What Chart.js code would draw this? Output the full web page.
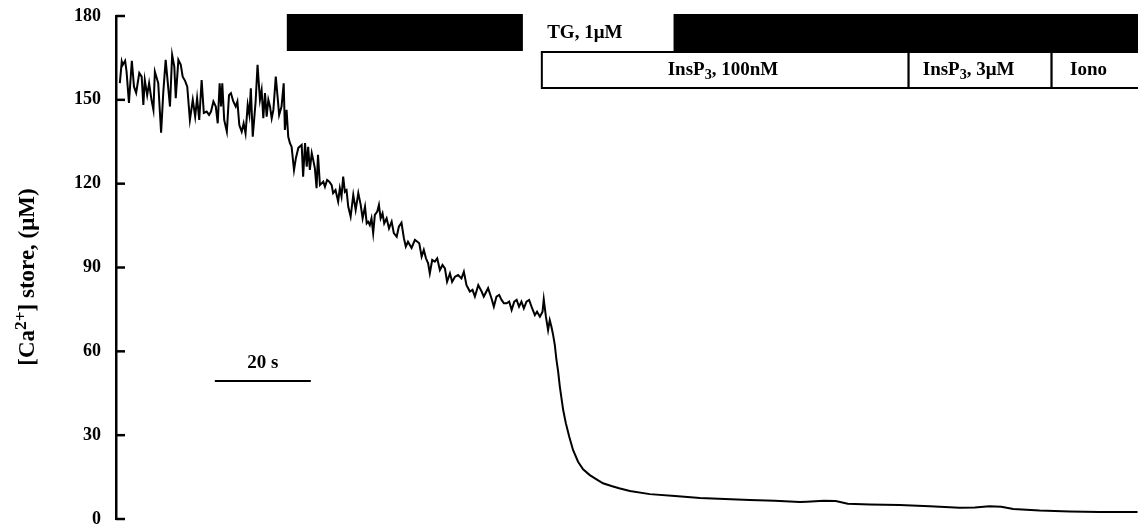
<!DOCTYPE html>
<html>
<head>
<meta charset="utf-8">
<script src="https://cdn.jsdelivr.net/npm/chart.js@4/dist/chart.umd.min.js"></script>
<style>
  html, body { margin: 0; padding: 0; background: #fff; }
  #wrap { width: 1138px; height: 525px; position: relative; }
</style>
</head>
<body>
<div id="wrap"><canvas id="store-chart"></canvas></div>
<script>
// time (s) and [Ca2+] in the store (uM)
const timeS = [
  0.8, 1.2, 1.4, 1.9, 2.2, 2.7, 3.3, 3.75, 4.2, 4.85, 5.35, 5.7, 6.0, 6.5, 6.9, 7.4, 7.8, 8.1, 8.8, 9.4,
  9.85, 10.35, 10.8, 11.25, 11.7, 12.15, 12.45, 13.0, 13.5, 13.9, 14.4, 14.85, 15.4, 16.0, 16.5, 16.9, 17.35, 17.85, 18.3, 18.9,
  19.4, 19.8, 20.3, 20.8, 21.2, 21.6, 21.9, 22.15, 22.55, 23.1, 23.55, 23.95, 24.45, 24.95, 25.3, 25.7, 26.2, 26.6, 27.0, 27.45,
  27.8, 28.1, 28.5, 29.1, 29.5, 30.0, 30.35, 30.7, 31.05, 31.4, 31.75, 32.1, 32.45, 32.8, 33.3, 33.7, 34.0, 34.5, 34.95, 35.2,
  35.55, 35.9, 36.25, 36.6, 37.1, 37.5, 38.0, 38.7, 39.0, 39.4, 39.75, 40.05, 40.4, 40.8, 41.1, 41.45, 41.8, 42.1, 42.5, 42.85,
  43.2, 43.55, 44.0, 44.45, 44.95, 45.25, 45.75, 46.3, 46.65, 47.0, 47.35, 47.7, 48.05, 48.4, 48.9, 49.45, 49.95, 50.5, 51.0, 51.4,
  51.9, 52.25, 52.55, 52.9, 53.25, 53.6, 53.95, 54.45, 54.8, 55.15, 55.55, 55.9, 56.4, 56.9, 57.45, 57.9, 58.5, 58.95, 59.5, 60.0,
  60.4, 60.85, 61.6, 62.3, 63.2, 63.7, 64.15, 64.6, 65.05, 65.4, 65.9, 66.45, 66.95, 67.5, 68.05, 68.55, 69.0, 69.6, 70.05, 70.65,
  71.3, 72.0, 72.5, 73.05, 73.75, 74.3, 74.8, 75.5, 76.2, 76.65, 77.55, 78.25, 78.75, 79.3, 79.85, 80.35, 80.85, 81.4, 81.95, 82.45,
  83.0, 83.5, 84.0, 84.5, 85.0, 85.55, 86.1, 86.6, 87.3, 87.75, 88.35, 88.9, 89.15, 89.6, 90.05, 90.4, 90.75, 91.1, 91.45, 91.8,
  92.15, 92.5, 92.85, 93.2, 93.75, 94.45, 95.25, 96.3, 97.35, 98.75, 100.15, 101.5, 103.25, 104.85, 107.1, 111.25, 116.5, 121.7, 126.9, 132.1,
  137.3, 142.5, 144.0, 147.5, 150.0, 152.5, 157.1, 163.3, 169.6, 175.8, 179.0, 182.0, 184.5, 187.0, 192.5, 198.75, 205.0, 212.9
];
const storeCa = [
  156.0, 163.7, 162.5, 164.0, 160.1, 148.9, 164.0, 154.7, 152.5, 159.6, 158.3, 148.2, 157.1, 151.7, 156.0, 150.0, 146.4, 160.1, 156.0, 138.2,
  152.5, 164.3, 156.0, 147.6, 166.1, 161.9, 150.6, 164.3, 162.5, 158.3, 156.8, 154.7, 142.8, 150.0, 144.0, 150.6, 142.8, 157.1, 145.3, 145.8,
  144.6, 145.8, 149.4, 147.6, 141.6, 155.9, 147.6, 155.9, 142.8, 138.6, 151.7, 152.4, 149.4, 147.6, 149.4, 141.0, 138.6, 141.6, 138.0, 148.2,
  144.6, 154.1, 136.8, 149.4, 162.5, 150.0, 153.5, 143.4, 152.4, 144.0, 150.0, 147.6, 143.4, 146.4, 158.3, 150.6, 144.6, 147.6, 155.9, 139.2,
  146.4, 136.8, 134.5, 133.2, 124.9, 129.2, 132.8, 133.9, 122.5, 134.5, 126.1, 133.2, 124.9, 130.9, 128.5, 125.5, 118.4, 130.3, 119.5, 120.1,
  120.7, 118.9, 121.3, 120.7, 119.5, 116.6, 117.7, 113.6, 118.4, 115.4, 122.5, 117.1, 117.7, 111.8, 108.2, 116.0, 110.6, 116.6, 112.4, 107.6,
  111.8, 105.8, 106.4, 105.2, 107.6, 102.3, 108.8, 110.0, 112.4, 107.6, 109.4, 105.8, 107.6, 104.0, 106.4, 102.3, 101.0, 104.6, 106.0, 100.5,
  97.5, 99.2, 97.0, 99.9, 98.7, 93.9, 96.3, 93.3, 91.5, 87.9, 92.7, 92.1, 93.3, 89.1, 90.9, 89.7, 84.9, 87.9, 84.9, 86.7,
  87.3, 86.1, 88.5, 83.7, 81.4, 82.0, 79.6, 83.7, 81.4, 79.6, 82.6, 79.0, 76.0, 79.6, 80.2, 78.4, 77.2, 77.2, 77.8, 74.8,
  77.8, 78.4, 76.0, 77.8, 75.4, 77.8, 78.4, 76.0, 73.0, 74.2, 72.4, 74.2, 78.6, 72.4, 67.6, 71.2, 68.8, 65.9, 62.3, 56.9,
  52.7, 47.4, 43.2, 39.0, 34.3, 29.5, 24.7, 20.5, 17.8, 15.7, 14.2, 12.8, 11.8, 11.0, 10.0, 8.9, 8.2, 7.5, 7.2, 6.8,
  6.5, 6.1, 6.2, 6.5, 6.4, 5.5, 5.2, 5.0, 4.6, 4.0, 4.1, 4.6, 4.4, 3.6, 3.0, 2.7, 2.5, 2.5
];

// protocol bars (times in s)
const tgBlack = [[35.6, 84.8], [116.2, 220]];
const tgLabel = { at: 97.7, parts: [{ t: 'TG, 1μM' }] };
const inspSegments = [
  { from: 88.75, to: 165.2, at: 126.5, parts: [{ t: 'InsP' }, { t: '3', sub: true }, { t: ', 100nM' }] },
  { from: 165.2, to: 195.0, at: 177.7, parts: [{ t: 'InsP' }, { t: '3', sub: true }, { t: ', 3μM' }] },
  { from: 195.0, to: 220, at: 202.7, parts: [{ t: 'Iono' }] }
];
const scaleBarS = [20.6, 40.6];
const scaleBarLabel = '20 s';

const SERIF = '"Liberation Serif", "Times New Roman", serif';

function drawRich(ctx, parts, cx, cy, size) {
  let total = 0;
  const widths = parts.map(p => {
    ctx.font = 'bold ' + (p.sub || p.sup ? size * 0.75 : size) + 'px ' + SERIF;
    const w = ctx.measureText(p.t).width;
    total += w;
    return w;
  });
  let x = cx - total / 2;
  ctx.textAlign = 'left';
  ctx.textBaseline = 'middle';
  parts.forEach((p, i) => {
    let dy = 0;
    if (p.sub) dy = size * 0.28;
    if (p.sup) dy = -size * 0.3;
    ctx.font = 'bold ' + (p.sub || p.sup ? size * 0.75 : size) + 'px ' + SERIF;
    ctx.fillText(p.t, x, cy + dy);
    x += widths[i];
  });
}

const overlay = {
  id: 'overlay',
  afterDraw(chart) {
    const { ctx, chartArea, scales: { x, y } } = chart;
    ctx.save();
    ctx.fillStyle = '#000';
    ctx.strokeStyle = '#000';

    // inward ticks on the y axis
    ctx.lineWidth = 2.5;
    y.ticks.forEach(t => {
      const py = y.getPixelForValue(t.value);
      ctx.beginPath();
      ctx.moveTo(chartArea.left, py);
      ctx.lineTo(chartArea.left + 9, py);
      ctx.stroke();
    });

    // TG bar
    tgBlack.forEach(r => {
      const x0 = x.getPixelForValue(r[0]);
      const x1 = x.getPixelForValue(r[1]);
      ctx.fillRect(x0, 14, x1 - x0, 37);
    });
    drawRich(ctx, tgLabel.parts, x.getPixelForValue(tgLabel.at), 33, 19);

    // InsP3 / Iono boxes
    ctx.lineWidth = 2;
    inspSegments.forEach(s => {
      const x0 = x.getPixelForValue(s.from);
      const x1 = x.getPixelForValue(s.to);
      ctx.fillStyle = '#fff';
      ctx.fillRect(x0, 52, x1 - x0, 36);
      ctx.strokeRect(x0, 52, x1 - x0, 36);
      ctx.fillStyle = '#000';
      drawRich(ctx, s.parts, x.getPixelForValue(s.at), 70, 19);
    });

    // 20 s scale bar
    ctx.lineWidth = 2;
    const sx0 = x.getPixelForValue(scaleBarS[0]);
    const sx1 = x.getPixelForValue(scaleBarS[1]);
    ctx.beginPath();
    ctx.moveTo(sx0, 381);
    ctx.lineTo(sx1, 381);
    ctx.stroke();
    drawRich(ctx, [{ t: scaleBarLabel }], (sx0 + sx1) / 2, 363, 19);

    // y axis title
    ctx.translate(28, 277);
    ctx.rotate(-Math.PI / 2);
    drawRich(ctx, [{ t: '[Ca' }, { t: '2+', sup: true }, { t: '] store, (μM)' }], 0, 0, 23);
    ctx.restore();
  }
};

new Chart(document.getElementById('store-chart').getContext('2d'), {
  type: 'line',
  data: {
    datasets: [{
      data: timeS.map((t, i) => ({ x: t, y: storeCa[i] })),
      borderColor: '#000',
      borderWidth: 2,
      pointRadius: 0,
      tension: 0,
      fill: false
    }]
  },
  options: {
    responsive: true,
    maintainAspectRatio: false,
    animation: false,
    layout: { padding: { top: 16, bottom: 6, left: 0, right: 0 } },
    plugins: { legend: { display: false }, tooltip: { enabled: false } },
    scales: {
      x: { type: 'linear', min: 0, max: 213, display: false },
      y: {
        min: 0,
        max: 180,
        ticks: {
          stepSize: 30,
          padding: 15,
          color: '#000',
          font: { family: SERIF, size: 18, weight: 'bold' }
        },
        grid: { display: false, drawTicks: false },
        border: { display: true, color: '#000', width: 2.5 },
        afterFit(scale) {
          scale.width = 116;
          scale.paddingTop = 0;
          scale.paddingBottom = 0;
        }
      }
    }
  },
  plugins: [overlay]
});
</script>
</body>
</html>
